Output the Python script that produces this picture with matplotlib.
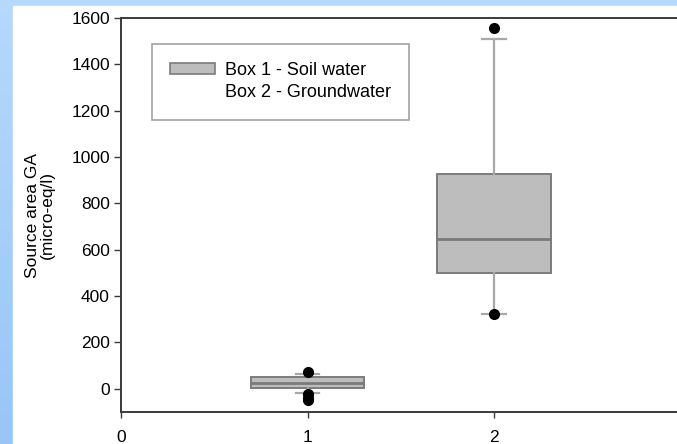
import numpy as np
import matplotlib
matplotlib.use("Agg")
import matplotlib.pyplot as plt
from matplotlib.patches import Patch, Rectangle

plt.rcParams['font.family'] = ['Liberation Sans', 'DejaVu Sans']

# box statistics (micro-eq/l) for the two source areas
labels = ["Box 1 - Soil water", "Box 2 - Groundwater"]
positions = [1, 2]
whislo = [-17, 322]
q1 = [3, 499]
med = [25, 648]
q3 = [50, 927]
whishi = [65, 1508]
fliers = [[72, -24, -38, -50], [1557, 322]]

stats = []
for i in range(len(positions)):
    stats.append({"whislo": whislo[i], "q1": q1[i], "med": med[i], "q3": q3[i],
                  "whishi": whishi[i], "fliers": fliers[i], "label": labels[i]})

W, H = 677, 444
fig = plt.figure(figsize=(W / 100, H / 100), dpi=100)

# light blue frame with a soft vertical gradient
bg = fig.add_axes([0, 0, 1, 1], zorder=-10)
grad = np.linspace(0, 1, 256).reshape(-1, 1)
cmap = matplotlib.colors.LinearSegmentedColormap.from_list("frame", ["#b6d9fc", "#97c6f7"])
bg.imshow(grad, aspect="auto", cmap=cmap, extent=[0, 1, 0, 1], origin="upper")
bg.add_patch(Rectangle((13 / W, 0), 1, 1 - 6 / H, color="white", zorder=2))
bg.set_xlim(0, 1)
bg.set_ylim(0, 1)
bg.axis("off")

ax = fig.add_axes([121 / W, 32 / H, 559.5 / W, 394 / H])
ax.set_facecolor("none")

ax.bxp(stats, positions=positions, widths=0.61, patch_artist=True,
       showfliers=True,
       boxprops=dict(facecolor="#bdbdbd", edgecolor="#7c7c7c", linewidth=1.4),
       medianprops=dict(color="#7a7a7a", linewidth=2),
       whiskerprops=dict(color="#a8a8a8", linewidth=1.6),
       capprops=dict(color="#a8a8a8", linewidth=1.6),
       capwidths=0.125,
       flierprops=dict(marker="o", markerfacecolor="black", markeredgecolor="black",
                       markersize=7))

ax.set_xlim(0, 3)
ax.set_ylim(-100, 1600)
ax.set_xticks([0, 1, 2])
ax.set_xticklabels(["0", "1", "2"])
ax.set_yticks(np.arange(0, 1601, 200))

for side in ["left", "bottom", "top", "right"]:
    ax.spines[side].set_color("#3a3a3a")
    ax.spines[side].set_linewidth(1.4)

ax.tick_params(axis="y", direction="out", length=5, width=1, color="#3a3a3a",
               labelsize=12.5, pad=3)
ax.tick_params(axis="x", direction="out", length=4, width=1, color="#3a3a3a",
               labelsize=12.5, pad=9)

ax.set_ylabel("Source area GA\n(micro-eq/l)", fontsize=12.5, labelpad=12, linespacing=1.0)

handles = [Patch(facecolor="#bdbdbd", edgecolor="#7c7c7c", linewidth=1.2),
           Patch(facecolor="none", edgecolor="none")]
leg = ax.legend(handles, labels, loc="upper left",
                bbox_to_anchor=(152 / W, 1 - 44 / H), bbox_transform=fig.transFigure,
                fontsize=13, frameon=True, fancybox=False, borderpad=1.0,
                handlelength=2.5, handleheight=0.55, handletextpad=0.55,
                labelspacing=0.3, borderaxespad=0)
leg.get_frame().set_edgecolor("#8a8a8a")
leg.get_frame().set_linewidth(1.2)

fig.savefig("out.png", dpi=100)
